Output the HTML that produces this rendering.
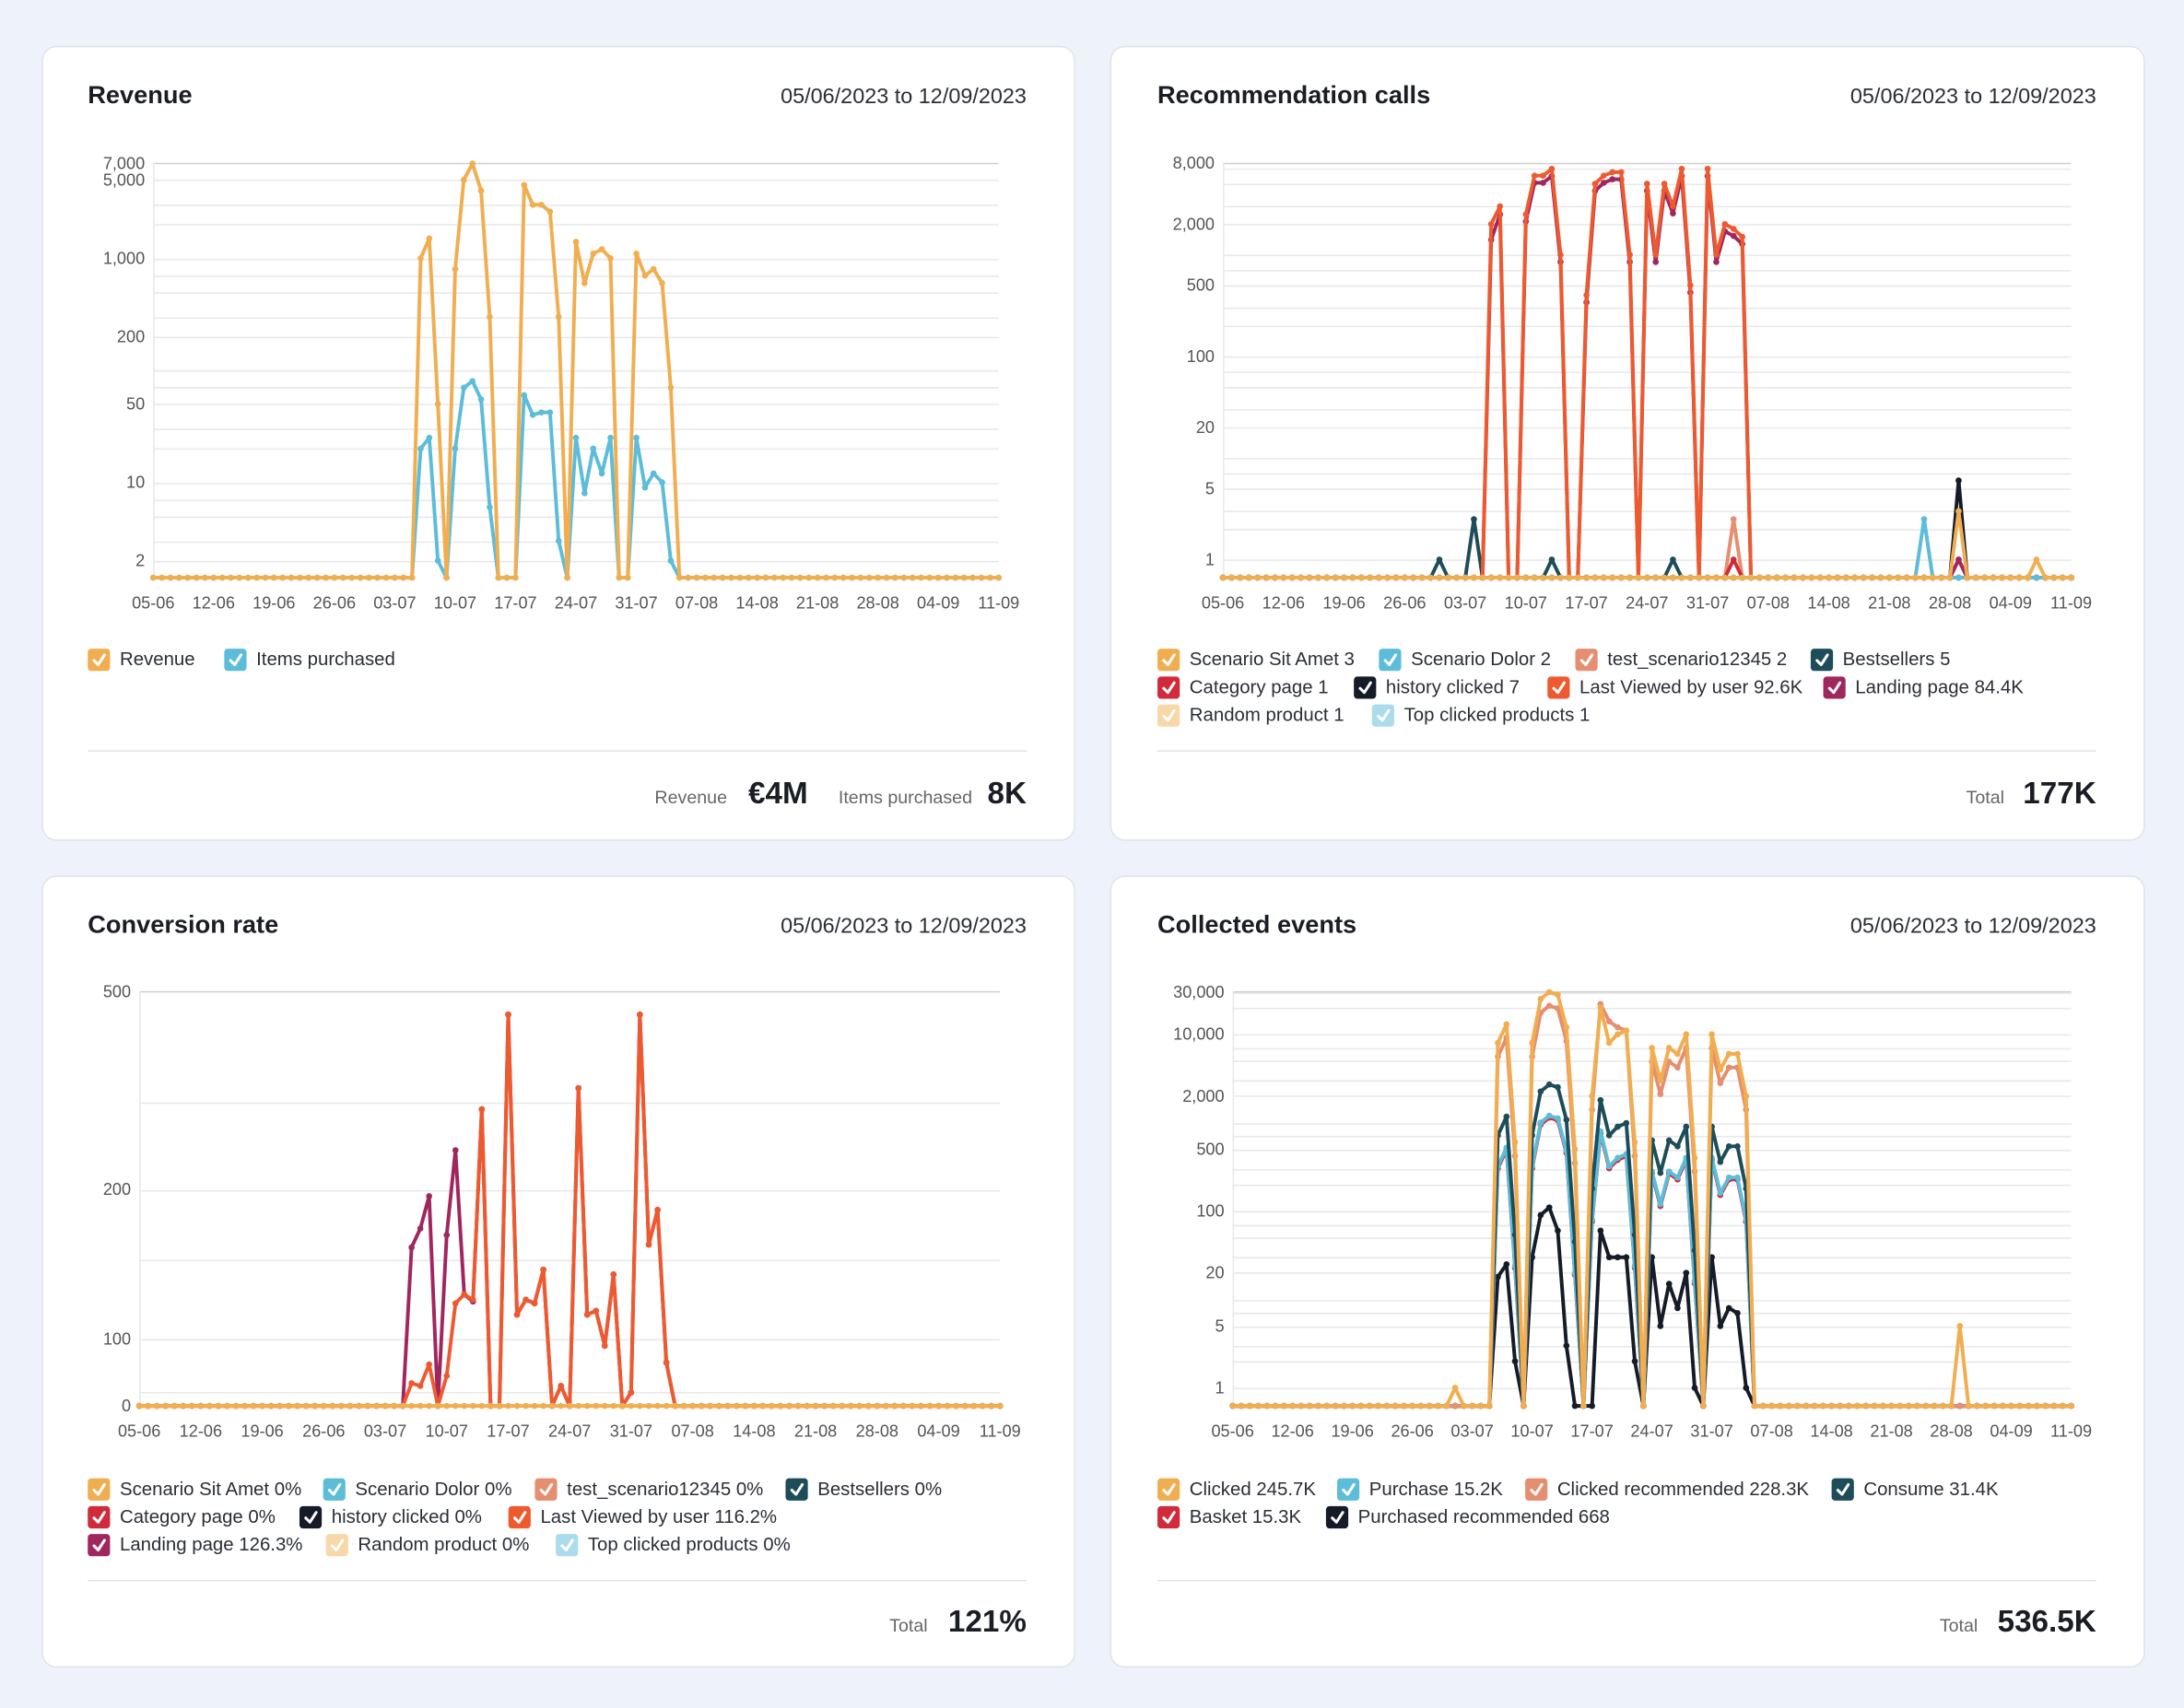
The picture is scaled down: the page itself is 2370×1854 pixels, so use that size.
<!DOCTYPE html>
<html><head><meta charset="utf-8">
<style>
html,body{margin:0;padding:0;background:#eef2fb;}
svg{display:block;font-family:"Liberation Sans",Arial,sans-serif;}
</style></head>
<body>
<svg id="s" width="2370" height="1854" viewBox="0 0 1568 1227" preserveAspectRatio="none" xmlns="http://www.w3.org/2000/svg">
<rect x="0" y="0" width="1568" height="1227" fill="#eef2fb"/>
<g fill="#fff" stroke="#dfe3ea" stroke-width="1">
<rect x="30.5" y="33.5" width="741" height="570" rx="10"/>
<rect x="797.5" y="33.5" width="742" height="570" rx="10"/>
<rect x="30.5" y="629.5" width="741" height="568" rx="10"/>
<rect x="797.5" y="629.5" width="742" height="568" rx="10"/>
</g>
<g font-weight="bold" font-size="18" fill="#1a1d24">
<text x="63" y="74">Revenue</text>
<text x="831" y="74">Recommendation calls</text>
<text x="63" y="670">Conversion rate</text>
<text x="831" y="670">Collected events</text>
</g>
<g font-size="15.5" fill="#2a2e36" text-anchor="end">
<text x="737" y="74">05/06/2023 to 12/09/2023</text>
<text x="1505" y="74">05/06/2023 to 12/09/2023</text>
<text x="737" y="670">05/06/2023 to 12/09/2023</text>
<text x="1505" y="670">05/06/2023 to 12/09/2023</text>
</g>
<g stroke="#e3e5e9" stroke-width="1">
<line x1="63" y1="539.5" x2="737" y2="539.5"/>
<line x1="831" y1="539.5" x2="1505" y2="539.5"/>
<line x1="63" y1="1135.5" x2="737" y2="1135.5"/>
<line x1="831" y1="1135.5" x2="1505" y2="1135.5"/>
</g>
<g font-size="13" fill="#666" text-anchor="end">
<text x="522" y="577">Revenue</text>
<text x="698" y="577">Items purchased</text>
<text x="1439" y="577">Total</text>
<text x="666" y="1172">Total</text>
<text x="1420" y="1172">Total</text>
</g>
<g font-size="22" font-weight="bold" fill="#1a1d24" text-anchor="end">
<text x="580" y="577">€4M</text>
<text x="737" y="577">8K</text>
<text x="1505" y="577">177K</text>
<text x="737" y="1172">121%</text>
<text x="1505" y="1172">536.5K</text>
</g>
<g id="charts"></g>
</svg>
<script>
var NS="http://www.w3.org/2000/svg";
var root=document.getElementById('charts');
function el(t,a,p,txt){var e=document.createElementNS(NS,t);for(var k in a)e.setAttribute(k,a[k]);if(txt!==undefined)e.textContent=txt;(p||root).appendChild(e);return e;}
var C={or:"#f1ae51",bl:"#5dbdd9",sa:"#e68e70",te:"#1c4d59",re:"#d02a3b",bk:"#151b27",ov:"#ee5a2f",pu:"#a0275e",pe:"#f8d8a8",lb:"#acdcec"};
var labels=["05-06","12-06","19-06","26-06","03-07","10-07","17-07","24-07","31-07","07-08","14-08","21-08","28-08","04-09","11-09"];
function seq(start,arr){var o={};for(var i=0;i<arr.length;i++)o[start+i]=arr[i];return o;}
function scale(o,f){var r={};for(var k in o)r[k]=o[k]*f;return r;}
function merge(a,b){var r={};for(var k in a)r[k]=a[k];for(var k in b)r[k]=b[k];return r;}
function chart(c){
  c.grid.forEach(function(y){el('line',{x1:c.x0,x2:c.x1,y1:y+.5,y2:y+.5,stroke:'#e8e8e8','stroke-width':1});});
  el('line',{x1:c.x0,x2:c.x1,y1:c.top+.5,y2:c.top+.5,stroke:'#cfcfcf','stroke-width':1});
  el('line',{x1:c.x0+.5,x2:c.x0+.5,y1:c.top,y2:c.zero,stroke:'#e8e8e8','stroke-width':1});
  c.ticks.forEach(function(t){el('text',{x:c.x0-6,y:c.map(t[0])+4,'font-size':12,fill:'#555','text-anchor':'end'},null,t[1]);});
  var step=(c.x1-c.x0)/98;
  labels.forEach(function(l,i){el('text',{x:c.x0+i*7*step,y:c.zero+22,'font-size':12,fill:'#555','text-anchor':'middle'},null,l);});
  c.series.forEach(function(s){
    var pts=[];
    for(var d=0;d<=98;d++){var v=s.d[d]||0;var y=v>0?c.map(v):c.zero;pts.push((c.x0+d*step).toFixed(1)+','+y.toFixed(1));}
    el('polyline',{points:pts.join(' '),fill:'none',stroke:s.c,'stroke-width':2.6,'stroke-linejoin':'round'});
    var g=el('g',{fill:s.c});
    pts.forEach(function(p){var q=p.split(',');el('circle',{cx:q[0],cy:q[1],r:2.2},g);});
  });
}
function logmap(y1,ydec){return function(v){return y1-ydec*Math.log10(v);};}
function gridLog(y1,ydec,maxd){var g=[];for(var d=0;d<=maxd;d++){[1,2,3,5,7].forEach(function(m){var y=y1-ydec*(d+Math.log10(m));g.push(Math.round(y));});}return g;}
function check(x,y,col,p){
  el('rect',{x:x,y:y,width:16,height:16,rx:2.5,fill:col});
  el('path',{d:'M'+(x+4.5)+' '+(y+8.5)+' l3 3 l4.5 -7',fill:'none',stroke:'#fff','stroke-width':2,'stroke-linecap':'round','stroke-linejoin':'round'});
}
function legend(items){items.forEach(function(it){check(it[0],it[1]-12,it[3]);el('text',{x:it[0]+23,y:it[1],'font-size':13.5,fill:'#2a2e36','xml:space':'preserve'},null,it[2]);});}

var rev=seq(31,[1000,1500,50,0,800,5000,7000,4000,300,0,0,0,4500,3000,3000,2600,300,0,1400,600,1100,1200,1000,0,0,1100,700,800,600,70,0]);
var itm=seq(31,[20,25,2,0,20,70,80,55,6,0,0,0,60,40,42,42,3,0,25,8,20,12,25,0,0,25,9,12,10,2,0]);
var m1=logmap(427,80.5);
chart({x0:110,x1:717,top:117,zero:415,map:m1,grid:gridLog(427,80.5,3).filter(function(y){return y>117&&y<415;}),
 ticks:[[7000,'7,000'],[5000,'5,000'],[1000,'1,000'],[200,'200'],[50,'50'],[10,'10'],[2,'2']],
 series:[{c:C.bl,d:itm},{c:C.or,d:rev}]});
legend([[63,478,'Revenue',C.or],[161,478,'Items purchased',C.bl]]);

var lv=seq(31,[2000,3000,0,0,2500,6000,6000,7000,1000,0,0,400,5000,6000,6500,6500,1000,0,5000,1000,5000,3000,7000,500,0,7000,1000,2000,1800,1500,0]);
var lp=merge(scale(lv,0.85),{31:1400,32:2500});
var m2=logmap(402,73);
chart({x0:878,x1:1487,top:117,zero:415,map:m2,grid:gridLog(402,73,3).filter(function(y){return y>117&&y<415;}),
 ticks:[[8000,'8,000'],[2000,'2,000'],[500,'500'],[100,'100'],[20,'20'],[5,'5'],[1,'1']],
 series:[{c:C.lb,d:{81:2.5}},{c:C.pe,d:{38:1}},{c:C.sa,d:{59:2.5}},{c:C.re,d:{59:1,85:1}},{c:C.te,d:{25:1,29:2.5,38:1,52:1}},{c:C.bk,d:{85:6}},{c:C.pu,d:merge(lp,{85:1})},{c:C.ov,d:lv},{c:C.bl,d:{81:2.5}},{c:C.or,d:{85:3,94:1}}]});
legend([[831,478,'Scenario Sit Amet  3',C.or],[990,478,'Scenario Dolor  2',C.bl],[1131,478,'test_scenario12345  2',C.sa],[1300,478,'Bestsellers  5',C.te],
 [831,498,'Category page  1',C.re],[972,498,'history clicked  7',C.bk],[1111,498,'Last Viewed by user  92.6K',C.ov],[1309,498,'Landing page  84.4K',C.pu],
 [831,518,'Random product  1',C.pe],[985,518,'Top clicked products  1',C.lb]]);

function m3(v){return v>=100?962-357*Math.log10(v/100):1010-48*v/100;}
var cvO=seq(31,[34,30,62,0,45,118,123,120,290,0,0,450,112,120,118,138,0,30,0,320,112,114,90,135,0,20,450,155,182,65,0]);
var cvP=merge(cvO,{31:153,32:167,33:194,34:0,35:162,36:240,37:123,38:119});
chart({x0:100,x1:718,top:712,zero:1010,map:m3,grid:[792,855,905,962,1000],
 ticks:[[500,'500'],[200,'200'],[100,'100']],
 series:[{c:C.pu,d:cvP},{c:C.ov,d:cvO},{c:C.or,d:{}}]});
el('text',{x:94,y:1014,'font-size':12,fill:'#555','text-anchor':'end'},null,'0');
legend([[63,1074,'Scenario Sit Amet  0%',C.or],[232,1074,'Scenario Dolor  0%',C.bl],[384,1074,'test_scenario12345  0%',C.sa],[564,1074,'Bestsellers  0%',C.te],
 [63,1094,'Category page  0%',C.re],[215,1094,'history clicked  0%',C.bk],[365,1094,'Last Viewed by user  116.2%',C.ov],
 [63,1114,'Landing page  126.3%',C.pu],[234,1114,'Random product  0%',C.pe],[399,1114,'Top clicked products  0%',C.lb]]);

var cl=seq(31,[8000,13000,600,0,8000,25000,30000,28000,12000,500,0,2000,20000,8000,10000,11000,600,0,7000,3000,7000,6000,10000,400,0,10000,4000,6000,6000,2000,0]);
var m4=logmap(997,63.5);
var bkv=seq(31,[18,25,2,0,30,90,110,60,3,0,0,0,60,30,30,30,2,0,30,5,15,8,20,1,0,30,5,8,7,1,0]);
chart({x0:885,x1:1487,top:712,zero:1010,map:m4,grid:gridLog(997,63.5,4).filter(function(y){return y>712&&y<1010;}),
 ticks:[[30000,'30,000'],[10000,'10,000'],[2000,'2,000'],[500,'500'],[100,'100'],[20,'20'],[5,'5'],[1,'1']],
 series:[{c:C.bk,d:bkv},{c:C.re,d:scale(cl,0.038)},{c:C.bl,d:scale(cl,0.04)},{c:C.te,d:scale(cl,0.09)},{c:C.sa,d:merge(scale(cl,0.7),{43:22000,44:14000,45:12000,46:11000})},{c:C.or,d:merge(cl,{26:1,85:5})}]});
legend([[831,1074,'Clicked  245.7K',C.or],[960,1074,'Purchase  15.2K',C.bl],[1095,1074,'Clicked recommended  228.3K',C.sa],[1315,1074,'Consume  31.4K',C.te],
 [831,1094,'Basket  15.3K',C.re],[952,1094,'Purchased recommended  668',C.bk]]);
</script>
</body></html>
